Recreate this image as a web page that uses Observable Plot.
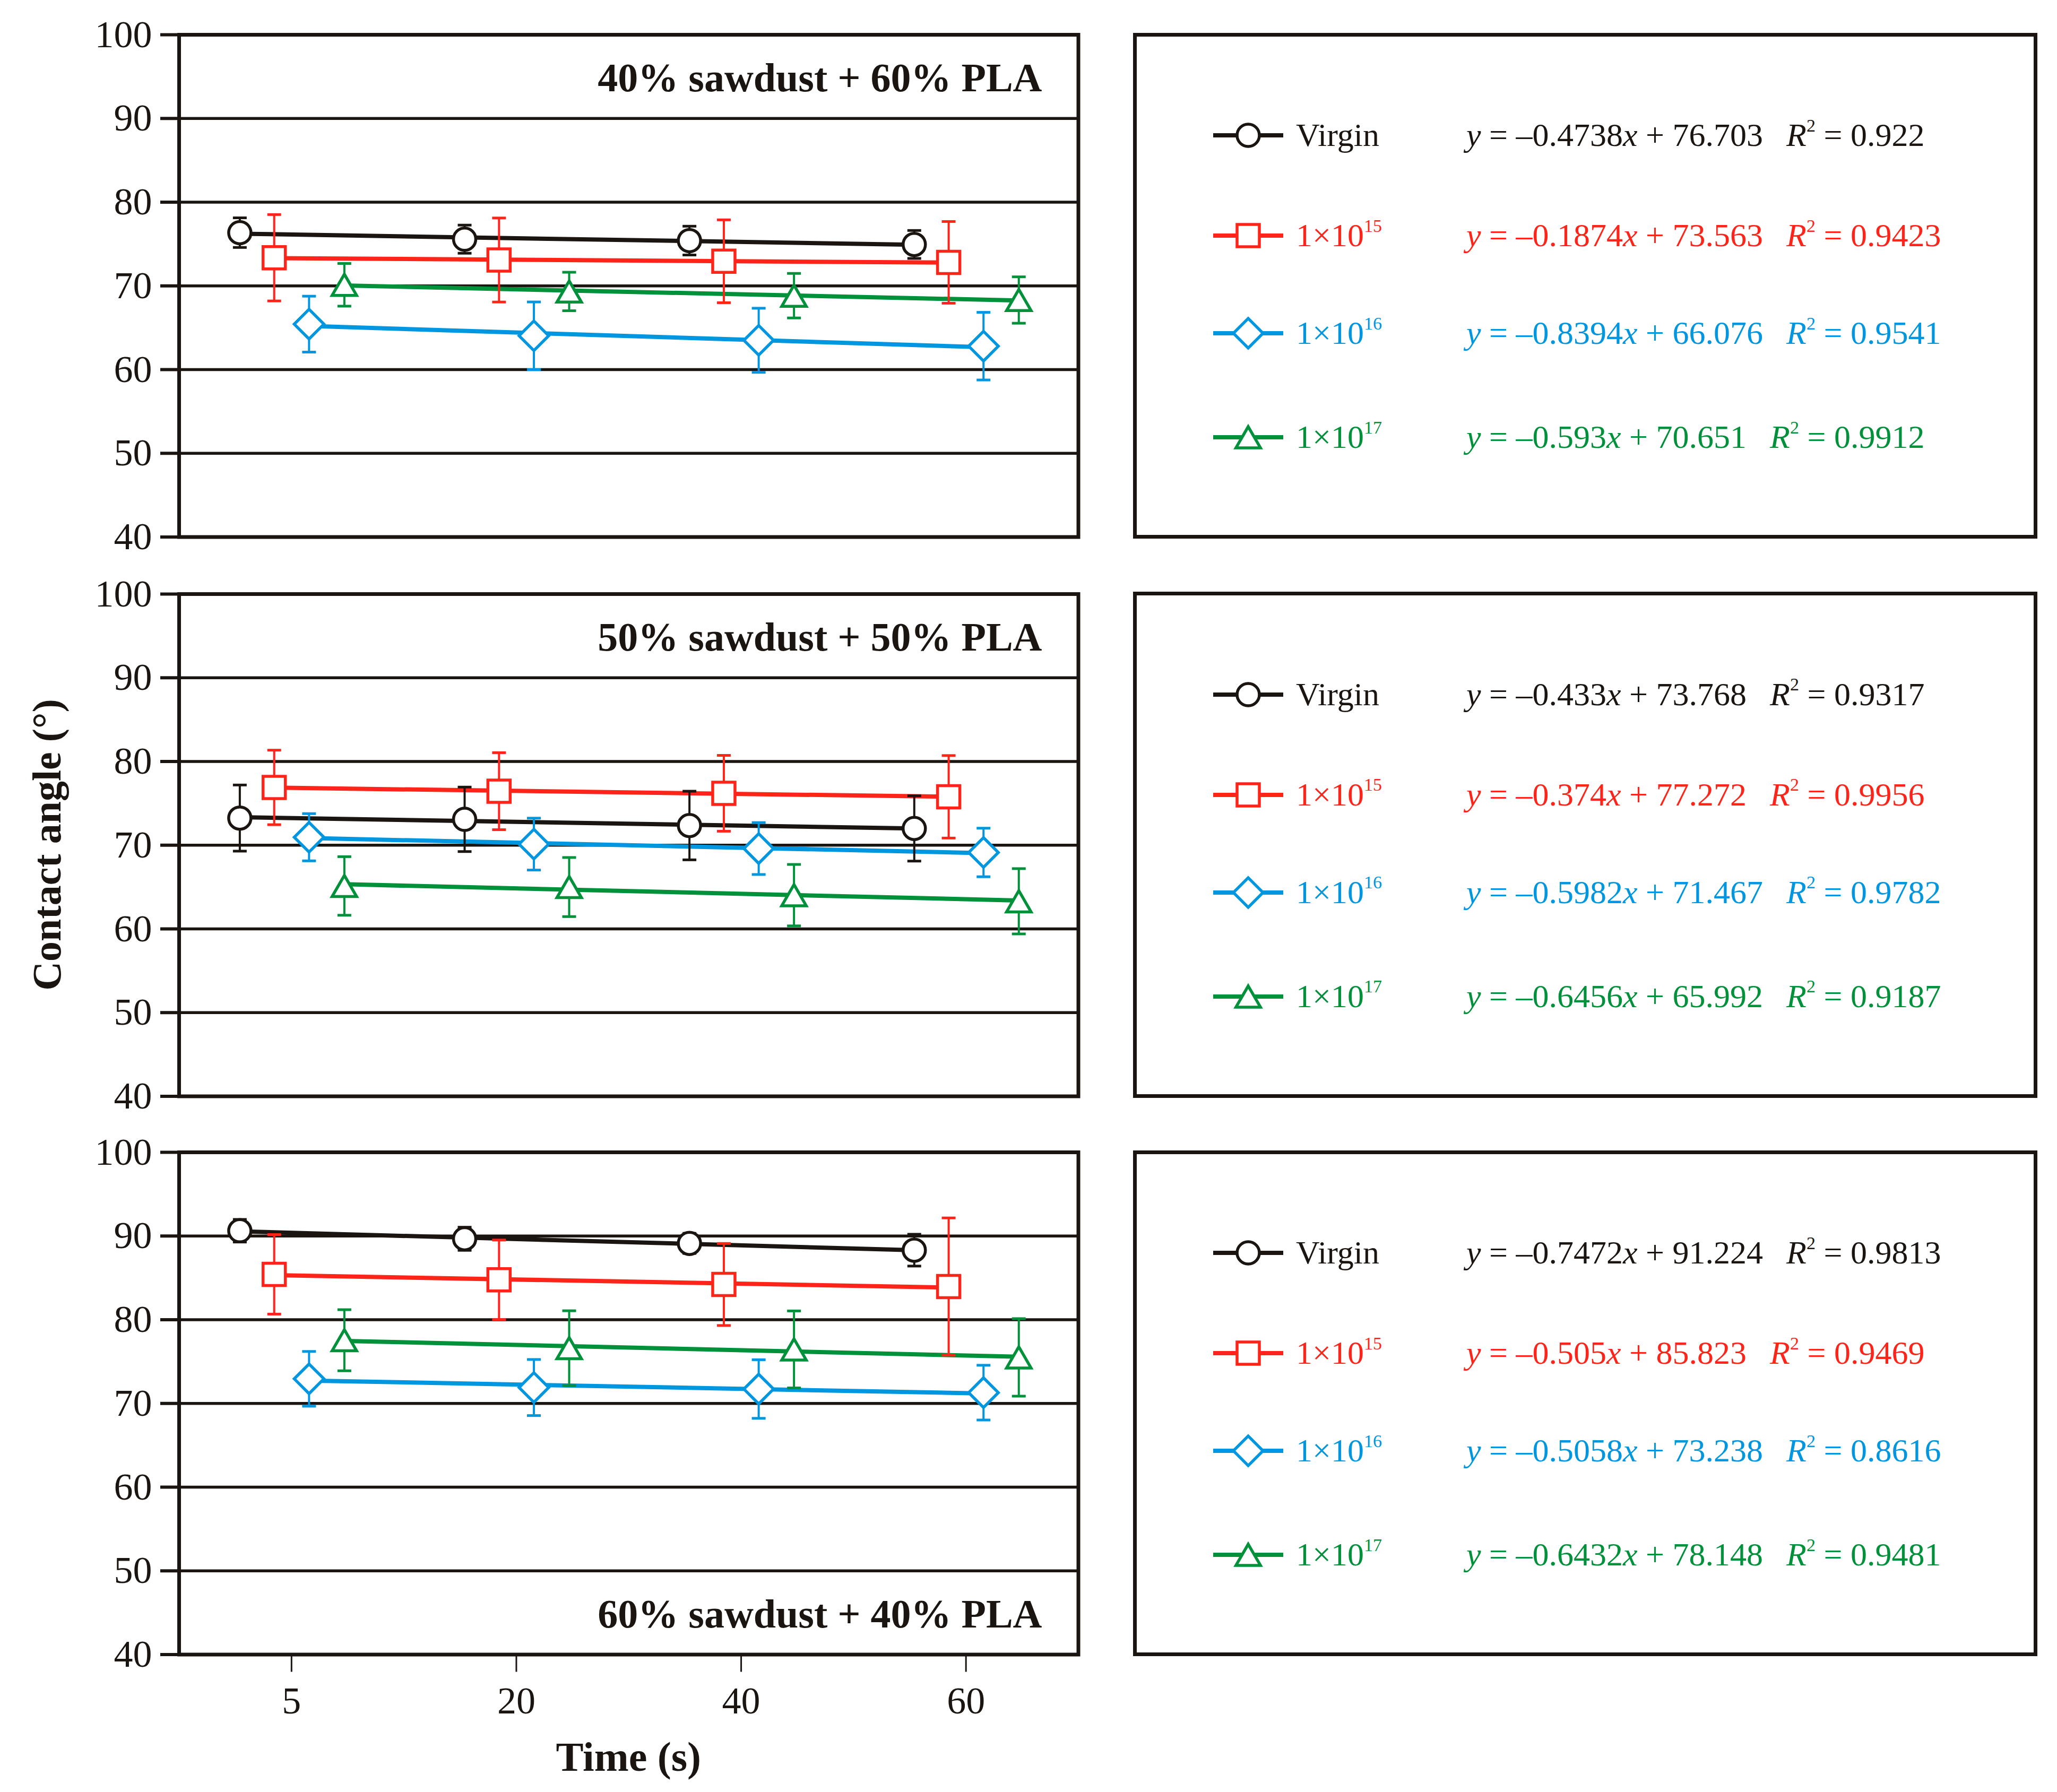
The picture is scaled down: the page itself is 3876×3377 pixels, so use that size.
<!DOCTYPE html>
<html><head><meta charset="utf-8">
<script src="https://cdn.jsdelivr.net/npm/d3@7"></script>
<script src="https://cdn.jsdelivr.net/npm/@observablehq/plot@0.6"></script>
<style>
html,body{margin:0;padding:0;background:#fff;}
#fig{position:relative;width:3876px;height:3377px;background:#fff;font-family:"Liberation Serif","DejaVu Serif",serif;color:#1b1512;overflow:hidden}
.abs{position:absolute;white-space:nowrap;line-height:1}
.sup{position:relative;font-size:0.55em;top:-0.8em;}
</style></head><body><div id="fig"></div>
<script>
// ---------------- data ----------------
const timeLabels = ["5", "20", "40", "60"];
const yTicks = [40, 50, 60, 70, 80, 90, 100];
const seriesBase = ["Virgin", "1×10", "1×10", "1×10"];
const seriesExp = ["", "15", "16", "17"];
const panelTitles = ["40% sawdust + 60% PLA", "50% sawdust + 50% PLA", "60% sawdust + 40% PLA"];

// mean contact angle per series (Virgin, 1e15, 1e16, 1e17) at the four times
const mean40 = [[76.36, 75.58, 75.41, 74.95], [73.36, 73.09, 72.94, 72.81], [65.43, 64.04, 63.50, 62.80], [70.13, 69.33, 68.83, 68.31]];
const err40  = [[1.77, 1.68, 1.72, 1.67], [5.16, 5.02, 4.95, 4.88], [3.34, 4.04, 3.83, 4.04], [2.55, 2.30, 2.66, 2.77]];
const mean50 = [[73.24, 73.09, 72.35, 72.00], [76.90, 76.45, 76.20, 75.78], [70.95, 70.13, 69.60, 69.13], [65.13, 65.00, 64.03, 63.30]];
const err50  = [[3.95, 3.85, 4.10, 3.90], [4.45, 4.60, 4.53, 4.93], [2.82, 3.10, 3.10, 2.90], [3.50, 3.53, 3.67, 3.90]];
const mean60 = [[90.63, 89.67, 89.12, 88.31], [85.42, 84.77, 84.21, 83.96], [72.94, 71.90, 71.72, 71.29], [77.55, 76.60, 76.45, 75.50]];
const err60  = [[1.35, 1.38, 1.20, 1.90], [4.75, 4.75, 4.90, 8.20], [3.27, 3.35, 3.50, 3.27], [3.65, 4.47, 4.60, 4.63]];

const slope40 = ["–0.4738", "–0.1874", "–0.8394", "–0.593"];
const icpt40  = ["76.703", "73.563", "66.076", "70.651"];
const r2_40   = ["0.922", "0.9423", "0.9541", "0.9912"];
const slope50 = ["–0.433", "–0.374", "–0.5982", "–0.6456"];
const icpt50  = ["73.768", "77.272", "71.467", "65.992"];
const r2_50   = ["0.9317", "0.9956", "0.9782", "0.9187"];
const slope60 = ["–0.7472", "–0.505", "–0.5058", "–0.6432"];
const icpt60  = ["91.224", "85.823", "73.238", "78.148"];
const r2_60   = ["0.9813", "0.9469", "0.8616", "0.9481"];

// ---------------- styles / layout ----------------
const ink = "#1b1512";
const colors = [ink, "#ff2419", "#0096e0", "#00913a"];
const dodge = [-0.23, -0.077, 0.078, 0.235];
const frameLeft = 337, frameRight = 2031.5, plotW = 2100;
const panelTops = [65, 1118.5, 2171], panelH = 946.5;
const legLeft = 2138.5, legRight = 3835.5;
const rowOff = [190, 379, 563, 759];
const FONT = "'Liberation Serif','DejaVu Serif',serif";

const symCircle = {draw(c, s) { const R = Math.sqrt(s / Math.PI); c.moveTo(R, 0); c.arc(0, 0, R, 0, 2 * Math.PI); c.closePath(); }};
const symSquare = {draw(c, s) { const R = Math.sqrt(s / Math.PI); c.moveTo(-R, -R); c.lineTo(R, -R); c.lineTo(R, R); c.lineTo(-R, R); c.closePath(); }};
const symDiamond = {draw(c, s) { const R = Math.sqrt(s / Math.PI) * 1.33; c.moveTo(0, -R); c.lineTo(R, 0); c.lineTo(0, R); c.lineTo(-R, 0); c.closePath(); }};
const symTriangle = {draw(c, s) { const R = Math.sqrt(s / Math.PI); const w = 1.1 * R, h = 0.95 * R; c.moveTo(0, -h); c.lineTo(w, h); c.lineTo(-w, h); c.closePath(); }};
const symCap = {draw(c, s) { const R = Math.sqrt(s / Math.PI); c.moveTo(-R, 0); c.lineTo(R, 0); }};
const symbols = [symCircle, symSquare, symDiamond, symTriangle];

const panels = [
  {mean: mean40, err: err40, slope: slope40, icpt: icpt40, r2: r2_40},
  {mean: mean50, err: err50, slope: slope50, icpt: icpt50, r2: r2_50},
  {mean: mean60, err: err60, slope: slope60, icpt: icpt60, r2: r2_60}
];

const fig = document.getElementById("fig");

panels.forEach((P, p) => {
  const mt = 30, mb = p === 2 ? 150 : 30;
  const rows = [];
  P.mean.forEach((arr, s) => arr.forEach((m, t) => rows.push({s, t, x: t + dodge[s], m, e: P.err[s][t]})));
  const bySeries = [0, 1, 2, 3].map(s => rows.filter(r => r.s === s));
  const marks = [
    Plot.ruleY(yTicks, {stroke: ink, strokeWidth: 5.5}),
    Plot.axisY({ticks: yTicks, tickSize: 35, tickPadding: 16, strokeWidth: 6, fontSize: 72, label: null, stroke: ink, fill: ink}),
    ...bySeries.map((d, s) => Plot.linearRegressionY(d, {x: "x", y: "m", stroke: colors[s], strokeWidth: 8, ci: 0})),
    ...bySeries.map((d, s) => Plot.ruleX(d, {x: "x", y1: r => r.m - r.e, y2: r => r.m + r.e, stroke: colors[s], strokeWidth: 4})),
    ...bySeries.map((d, s) => Plot.dot(d, {x: "x", y: r => r.m - r.e, symbol: symCap, r: 13, stroke: colors[s], strokeWidth: 5, fill: "none"})),
    ...bySeries.map((d, s) => Plot.dot(d, {x: "x", y: r => r.m + r.e, symbol: symCap, r: 13, stroke: colors[s], strokeWidth: 5, fill: "none"})),
    ...bySeries.map((d, s) => Plot.dot(d, {x: "x", y: "m", symbol: symbols[s], r: 21, stroke: colors[s], strokeWidth: 5.5, fill: "white"})),
    Plot.text([panelTitles[p]], {text: d => d, frameAnchor: p === 2 ? "bottom-right" : "top-right", dx: -68.5, dy: p === 2 ? -51 : 106,
      textAnchor: "end", lineAnchor: "bottom", fontSize: 76, fontWeight: "bold", fill: ink}),
    Plot.frame({stroke: ink, strokeWidth: 7})
  ];
  if (p === 2) {
    marks.push(Plot.axisX({ticks: [0, 1, 2, 3], tickFormat: i => timeLabels[i], tickSize: 33, tickPadding: 26.5,
      strokeWidth: 3, fontSize: 72, label: null, stroke: ink, fill: ink}));
  }
  const svg = Plot.plot({
    width: plotW, height: mt + panelH + mb,
    marginLeft: frameLeft, marginRight: plotW - frameRight, marginTop: mt, marginBottom: mb,
    x: p === 2 ? {domain: [-0.5, 3.5]} : {domain: [-0.5, 3.5], axis: null},
    y: {domain: [40, 100]},
    style: {fontFamily: FONT, fontSize: "72px", color: ink, background: "transparent", overflow: "visible", maxWidth: "none"},
    marks
  });
  svg.style.position = "absolute";
  svg.style.left = "0px";
  svg.style.top = (panelTops[p] - mt) + "px";
  fig.appendChild(svg);

  // legend box
  const box = document.createElement("div");
  box.className = "abs";
  Object.assign(box.style, {left: (legLeft - 3.5) + "px", top: (panelTops[p] - 3.5) + "px",
    width: (legRight - legLeft + 7) + "px", height: (panelH + 7) + "px", border: "7px solid " + ink, boxSizing: "border-box"});
  fig.appendChild(box);

  for (let s = 0; s < 4; s++) {
    const ly = panelTops[p] + rowOff[s];
    const sv = d3.create("svg").attr("width", 160).attr("height", 80)
      .style("position", "absolute").style("left", (2352 - 80) + "px").style("top", (ly - 40) + "px").style("overflow", "visible");
    sv.append("line").attr("x1", 14).attr("x2", 146).attr("y1", 40).attr("y2", 40).attr("stroke", colors[s]).attr("stroke-width", 8);
    const path = d3.path();
    symbols[s].draw(path, 21 * 21 * Math.PI);
    sv.append("path").attr("d", path.toString()).attr("transform", "translate(80,40)")
      .attr("fill", "white").attr("stroke", colors[s]).attr("stroke-width", 5.5);
    fig.appendChild(sv.node());

    const fs = 62;
    const top = ly + 20 - 0.8375 * fs;
    const lab = document.createElement("div");
    lab.className = "abs";
    Object.assign(lab.style, {left: "2442px", top: top + "px", fontSize: fs + "px", color: colors[s]});
    lab.innerHTML = seriesBase[s] + (seriesExp[s] ? `<span class="sup">${seriesExp[s]}</span>` : "");
    fig.appendChild(lab);

    const eq = document.createElement("div");
    eq.className = "abs";
    Object.assign(eq.style, {left: "2763px", top: top + "px", fontSize: fs + "px", color: colors[s]});
    eq.innerHTML = `<i>y</i> = ${P.slope[s]}<i>x</i> + ${P.icpt[s]}<span style="margin-left:44px"><i>R</i><span class="sup">2</span> = ${P.r2[s]}</span>`;
    fig.appendChild(eq);
  }
});

// axis titles
const yl = document.createElement("div");
yl.className = "abs";
yl.textContent = "Contact angle (°)";
Object.assign(yl.style, {left: "88px", top: "1592px", fontSize: "76px", fontWeight: "bold", transform: "translate(-50%,-50%) rotate(-90deg)"});
fig.appendChild(yl);

const xl = document.createElement("div");
xl.className = "abs";
xl.textContent = "Time (s)";
Object.assign(xl.style, {left: ((frameLeft + frameRight) / 2) + "px", top: (3337 - 0.8375 * 78) + "px", fontSize: "78px", fontWeight: "bold", transform: "translateX(-50%)"});
fig.appendChild(xl);
</script></body></html>
